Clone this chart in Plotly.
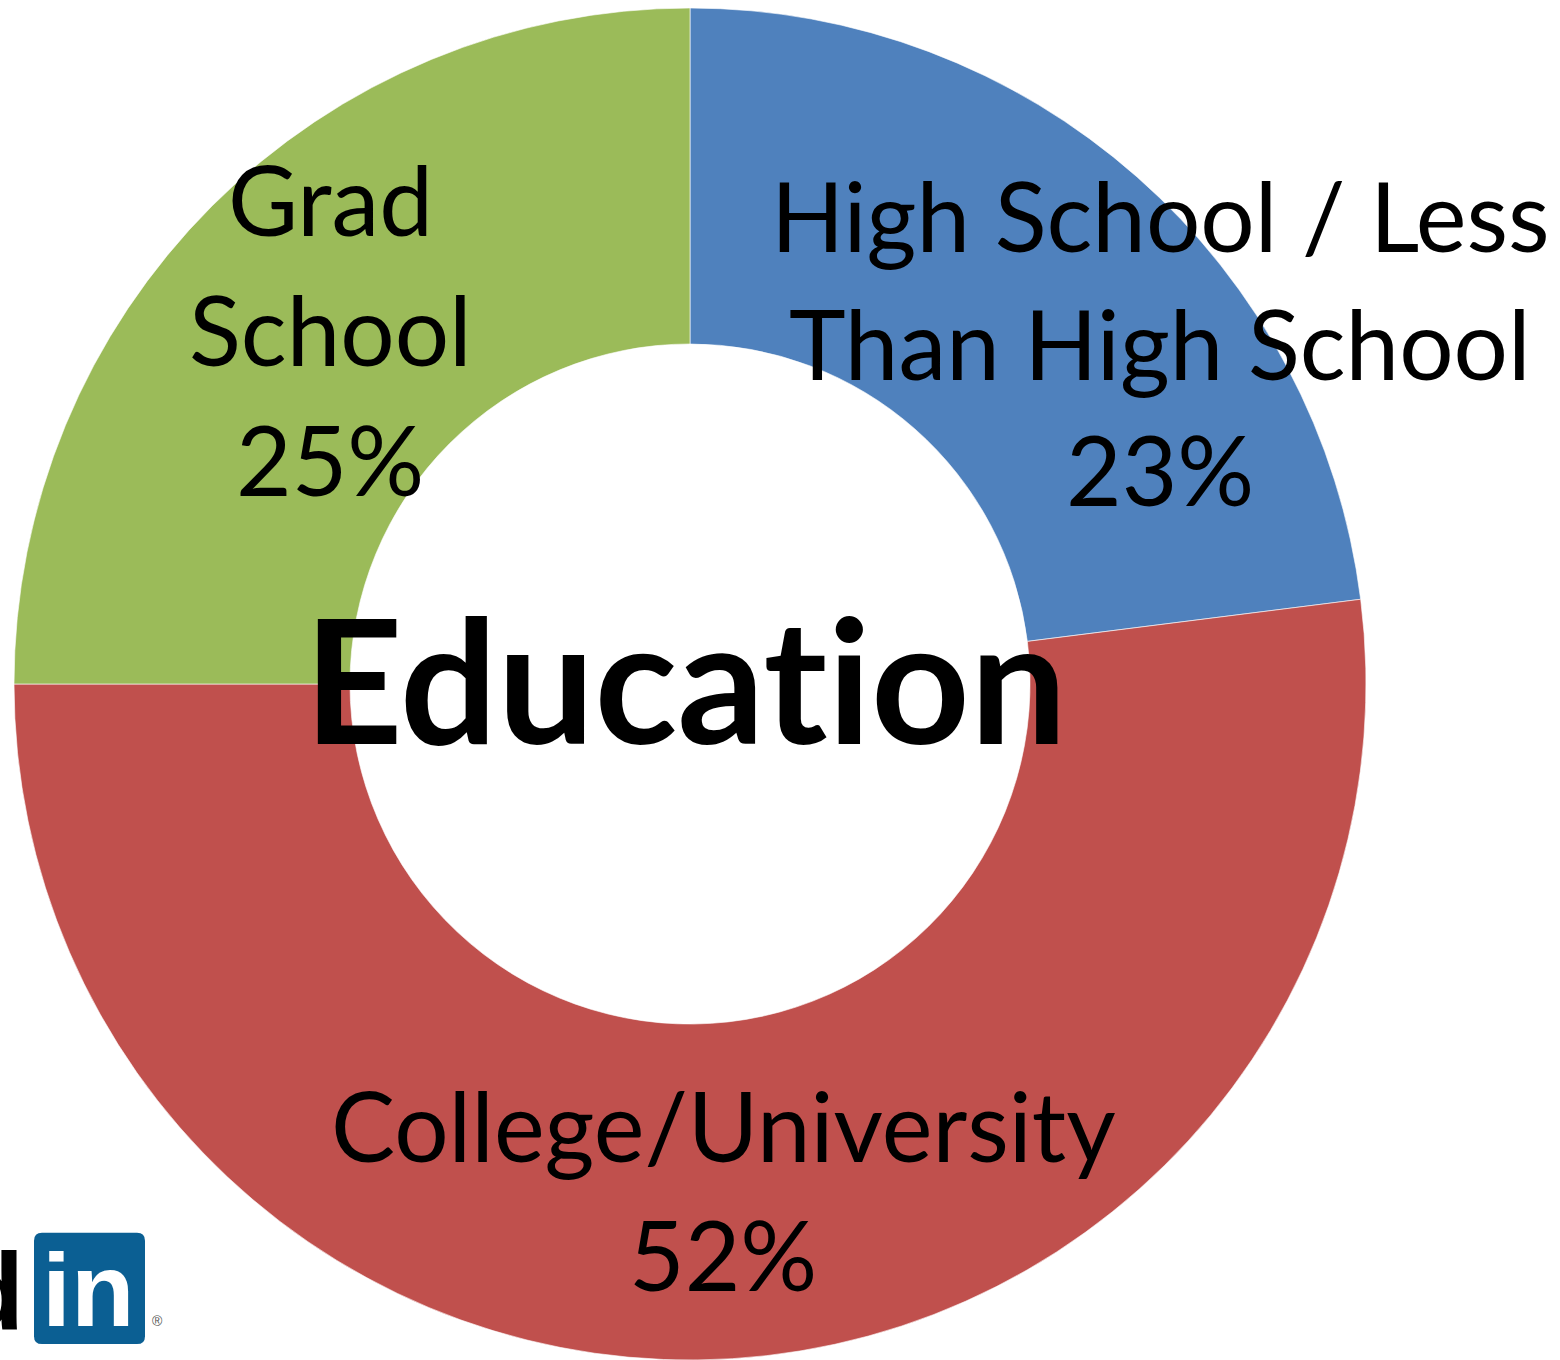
import plotly.graph_objects as go

# ---- data ----
categories = ["High School / Less<br>Than High School", "College/University", "Grad<br>School"]
label_lines = [["High School / Less", "Than High School"], ["College/University"], ["Grad", "School"]]
values = [23, 52, 25]
colors = ["#4F81BD", "#C0504D", "#9BBB59"]
center_title = "Educat\u200cion"   # ZWNJ keeps the 't' and 'i' apart (no ligature)

W, H = 1560, 1360
FONT = "Lato"

fig = go.Figure()
fig.add_trace(go.Pie(
    labels=categories,
    values=values,
    sort=False,
    direction="clockwise",
    rotation=0,
    hole=0.503,
    marker=dict(colors=colors, line=dict(color="rgba(255,255,255,0.6)", width=1)),
    textinfo="none",
    hoverinfo="label+percent",
    showlegend=False,
    domain=dict(x=[14 / W, 1366 / W], y=[0, 1]),
))

total = sum(values)
pct = [f"{round(v * 100 / total)}%" for v in values]

def px_x(x):
    return x / W

def px_y(y):
    return 1 - y / H

annotations = []
# label layout: (center x, list of line-center ys) in pixels
label_pos = [
    (1160, [208, 336, 463]),
    (723, [1123, 1253]),
    (330, [192, 322, 453]),
]
LABEL_SIZE = 96
for i, (cx, ys) in enumerate(label_pos):
    lines = label_lines[i] + [pct[i]]
    for txt, y in zip(lines, ys):
        annotations.append(dict(
            x=px_x(cx), y=px_y(y), xref="paper", yref="paper",
            text=txt, showarrow=False, xanchor="center", yanchor="middle",
            font=dict(family=FONT, size=LABEL_SIZE, color="black"),
        ))

# center title
annotations.append(dict(
    x=px_x(685), y=px_y(673), xref="paper", yref="paper",
    text=f"<b>{center_title}</b>", showarrow=False, xanchor="center", yanchor="middle",
    font=dict(family=FONT, size=172, color="black"),
))

# LinkedIn logo fragments
annotations.append(dict(
    x=px_x(26), y=px_y(1290), xref="paper", yref="paper",
    text="<b>d</b>", showarrow=False, xanchor="right", yanchor="middle",
    font=dict(family="Liberation Sans", size=110, color="black"),
))
annotations.append(dict(
    x=px_x(88), y=px_y(1290), xref="paper", yref="paper",
    text="<b>in</b>", showarrow=False, xanchor="center", yanchor="middle",
    font=dict(family="Liberation Sans", size=104, color="white"),
))
annotations.append(dict(
    x=px_x(157), y=px_y(1321), xref="paper", yref="paper",
    text="®", showarrow=False, xanchor="center", yanchor="middle",
    font=dict(family="Liberation Sans", size=14, color="#555555"),
))

# rounded blue square for the logo
x0, x1, y0, y1, r = 34, 145, 1232, 1344, 8
path = (f"M {x0 + r},{y0} L {x1 - r},{y0} Q {x1},{y0} {x1},{y0 + r} "
        f"L {x1},{y1 - r} Q {x1},{y1} {x1 - r},{y1} L {x0 + r},{y1} "
        f"Q {x0},{y1} {x0},{y1 - r} L {x0},{y0 + r} Q {x0},{y0} {x0 + r},{y0} Z")

def conv_path(p):
    res = []
    for part in p.split():
        if "," in part:
            a, b = part.split(",")
            res.append(f"{float(a) / W:.6f},{1 - float(b) / H:.6f}")
        else:
            res.append(part)
    return " ".join(res)

fig.update_layout(
    width=W, height=H,
    margin=dict(l=0, r=0, t=8, b=0),
    paper_bgcolor="white",
    plot_bgcolor="white",
    annotations=annotations,
    shapes=[dict(type="path", xref="paper", yref="paper", path=conv_path(path),
                 fillcolor="#0B5F93", line=dict(width=0), layer="below")],
)

fig.write_html("out.html")
